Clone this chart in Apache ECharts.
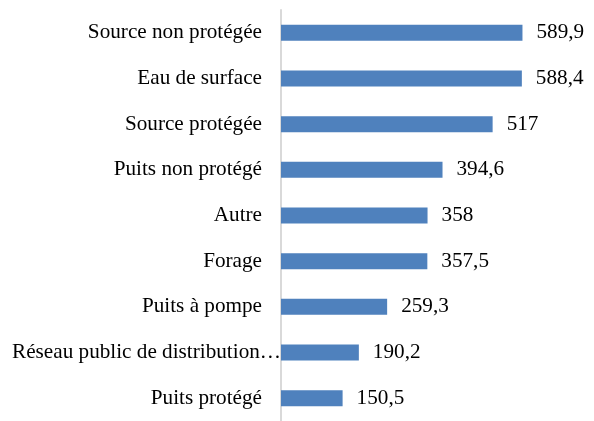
<!DOCTYPE html>
<html>
<head>
<meta charset="utf-8">
<script src="https://cdn.jsdelivr.net/npm/echarts@6/dist/echarts.min.js"></script>
<style>
  html, body { margin: 0; padding: 0; background: #ffffff; }
  #chart { width: 594px; height: 421px; }
</style>
</head>
<body>
<div id="chart"></div>
<script>
// Source types, listed top to bottom
const categories = [
  'Source non protégée',
  'Eau de surface',
  'Source protégée',
  'Puits non protégé',
  'Autre',
  'Forage',
  'Puits à pompe',
  'Réseau public de distribution…',
  'Puits protégé'
];
const values = [589.9, 588.4, 517, 394.6, 358, 357.5, 259.3, 190.2, 150.5];

const FONT = '"Liberation Serif", "Times New Roman", serif';
const SIZE = 21.2;

const chart = echarts.init(document.getElementById('chart'), null, { renderer: 'canvas' });

chart.setOption({
  animation: false,
  backgroundColor: '#ffffff',
  grid: { left: 281, top: 10, width: 245.6, height: 414 },
  xAxis: {
    type: 'value',
    min: 0,
    max: 600,
    show: false,
    splitLine: { show: false }
  },
  yAxis: {
    type: 'category',
    data: categories,
    inverse: true,
    axisLine: { show: true, lineStyle: { color: '#d9d9d9', width: 2 } },
    axisTick: { show: false },
    axisLabel: {
      margin: 0,
      fontFamily: FONT,
      fontSize: SIZE,
      color: '#000000',
      formatter: function (v) {
        return v.endsWith('…') ? '{long|' + v + '}' : '{n|' + v + '}';
      },
      rich: {
        n: { fontFamily: FONT, fontSize: SIZE, color: '#000000', padding: [0, 19, 0, 0] },
        long: { fontFamily: FONT, fontSize: SIZE, color: '#000000', padding: [0, 0, 0, 0] }
      }
    }
  },
  series: [{
    type: 'bar',
    data: values,
    barWidth: 16,
    itemStyle: { color: '#4f81bd' },
    label: {
      show: true,
      position: 'right',
      distance: 14,
      fontFamily: FONT,
      fontSize: SIZE,
      color: '#000000',
      formatter: function (p) {
        return String(p.value).replace('.', ',');
      }
    }
  }]
});
</script>
</body>
</html>
